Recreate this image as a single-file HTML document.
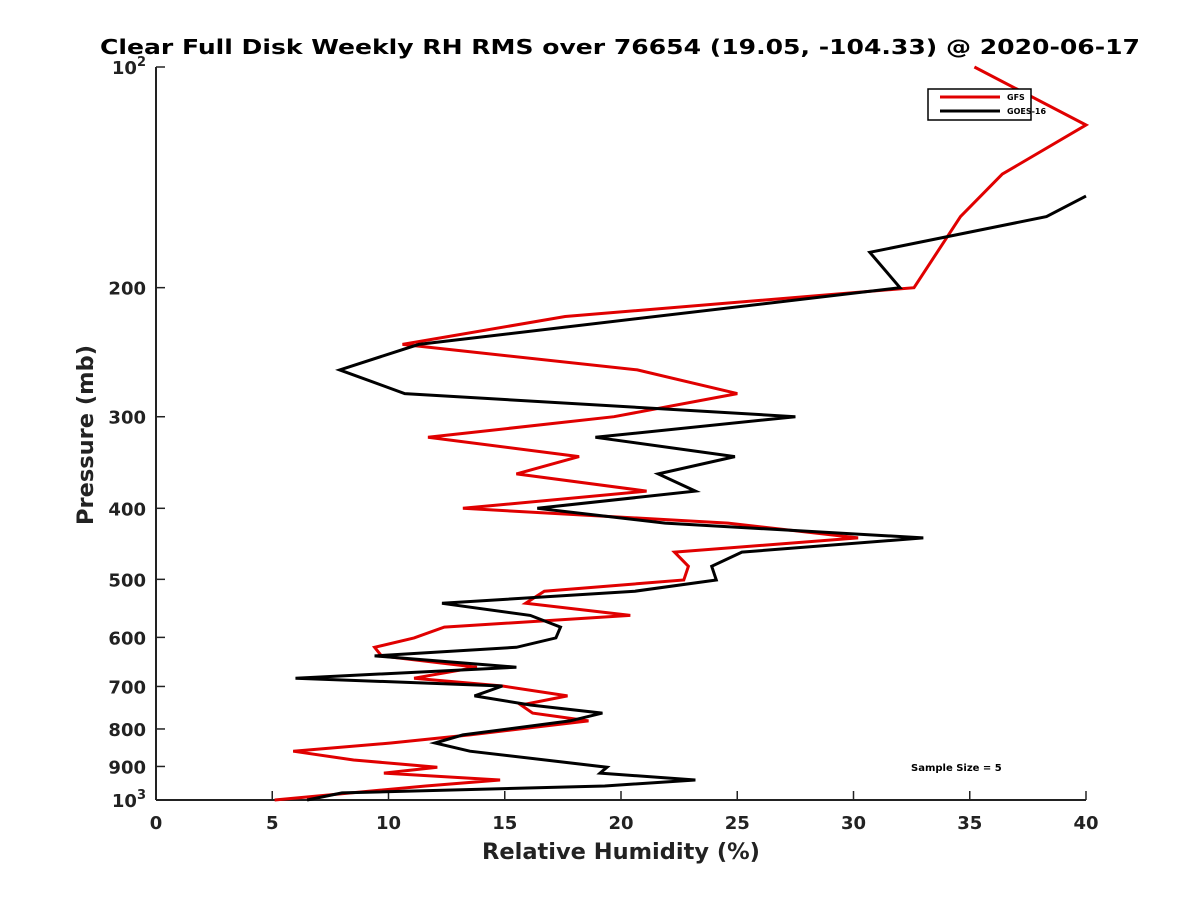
<!DOCTYPE html>
<html><head><meta charset="utf-8"><style>
body{margin:0;background:#fff}
svg{display:block;font-family:"DejaVu Sans","Liberation Sans",sans-serif;font-weight:bold}
</style></head><body>
<svg id="chart" width="1200" height="900">
<text x="100" y="54" font-size="20" textLength="1040" lengthAdjust="spacingAndGlyphs">Clear Full Disk Weekly RH RMS over 76654 (19.05, -104.33) @ 2020-06-17</text>
<g id="axes"></g>
<g id="series"></g>
<text x="621" y="859" font-size="22.5" text-anchor="middle" fill="#222">Relative Humidity (%)</text>
<text transform="translate(93,435) rotate(-90)" font-size="22.5" text-anchor="middle" fill="#222">Pressure (mb)</text>
<g>
<rect x="928" y="89" width="103" height="31" fill="#fff" stroke="#000" stroke-width="1.5"/>
<line x1="940" y1="97" x2="1000" y2="97" stroke="#e00000" stroke-width="3"/>
<text x="1007" y="100" font-size="8">GFS</text>
<line x1="940" y1="111" x2="1000" y2="111" stroke="#000" stroke-width="3"/>
<text x="1007" y="114" font-size="8">GOES-16</text>
</g>
<text x="911" y="771" font-size="10">Sample Size = 5</text>
</svg>
<script>
const xTicks=[0,5,10,15,20,25,30,35,40];
const yTicks=[100,200,300,400,500,600,700,800,900,1000];
const yTickLabels=["10²","200","300","400","500","600","700","800","900","10³"];
const gfsP=[100,120,140,160,200,219,239,259,279,300,320,340,359,379,400,419,439,459,480,501,519,539,560,581,601,619,636,659,682,699,721,742,761,780,815,836,858,882,902,919,939,957,1000];
const gfsRH=[35.2,40.0,36.4,34.6,32.6,17.6,10.6,20.7,25.0,19.7,11.7,18.2,15.5,21.1,13.2,24.6,30.2,22.3,22.9,22.7,16.7,15.9,20.4,12.4,11.1,9.4,9.7,13.8,11.1,14.9,17.7,15.7,16.2,18.6,13.5,10.1,5.9,8.5,12.1,9.8,14.8,11.6,5.1];
const goesP=[150,160,179,200,239,259,279,300,320,340,359,379,400,419,439,459,480,501,519,539,560,581,601,619,636,659,682,699,721,742,761,780,815,836,858,902,919,939,957,978,1000];
const goesRH=[40.0,38.3,30.7,32.0,11.3,7.9,10.7,27.5,18.9,24.9,21.6,23.2,16.4,21.9,33.0,25.2,23.9,24.1,20.6,12.3,16.1,17.4,17.2,15.5,9.4,15.5,6.0,14.9,13.7,16.1,19.2,17.8,13.2,12.0,13.5,19.4,19.1,23.2,19.3,8.0,6.5];

const X0=156,X1=1086,Y0=67,Y1=800;
const sx=v=>X0+(v-0)/(40-0)*(X1-X0);
const sy=p=>Y0+Math.log10(p/100)*(Y1-Y0);
const NS="http://www.w3.org/2000/svg";
const axes=document.getElementById('axes');
function mk(tag,attrs,parent){const e=document.createElementNS(NS,tag);for(const k in attrs)e.setAttribute(k,attrs[k]);parent.appendChild(e);return e;}
const yl=mk('line',{x1:X0,y1:Y0,x2:X0,y2:Y1,stroke:'#222','stroke-width':2},axes);


const xl=mk('line',{x1:X0,y1:Y1,x2:X1,y2:Y1,stroke:'#222','stroke-width':2},axes);


xTicks.forEach(v=>{
  const t=mk('line',{x1:sx(v),y1:Y1,x2:sx(v),y2:Y1-9,stroke:'#222','stroke-width':1.5},axes);
  
  
  const l=mk('text',{x:sx(v),y:Y1+29,'font-size':18,'text-anchor':'middle',fill:'#222'},axes);
  l.textContent=v;
  
  
});
yTicks.forEach((p,i)=>{
  const t=mk('line',{x1:X0,y1:sy(p),x2:X0+9,y2:sy(p),stroke:'#222','stroke-width':1.5},axes);
  
  
  const l=mk('text',{x:X0-10,y:sy(p)+7,'font-size':18,'text-anchor':'end',fill:'#222'},axes);
  const s=yTickLabels[i];
  if(s.endsWith('²')||s.endsWith('³')){
    l.textContent=s.slice(0,-1);
    const sup=mk('tspan',{'font-size':13,dy:-8},l);
    sup.textContent=s.endsWith('²')?'2':'3';
  } else l.textContent=s;
  
  
});
const ser=document.getElementById('series');
function draw(P,R,color,name){
  const pts=P.map((p,i)=>sx(R[i]).toFixed(1)+','+sy(p).toFixed(1)).join(' ');
  const pl=mk('polyline',{points:pts,fill:'none',stroke:color,'stroke-width':3,'stroke-linejoin':'miter'},ser);
  
  
}
draw(gfsP,gfsRH,'#e00000','gfs-line');
draw(goesP,goesRH,'#000','goes16-line');
</script>
</body></html>
